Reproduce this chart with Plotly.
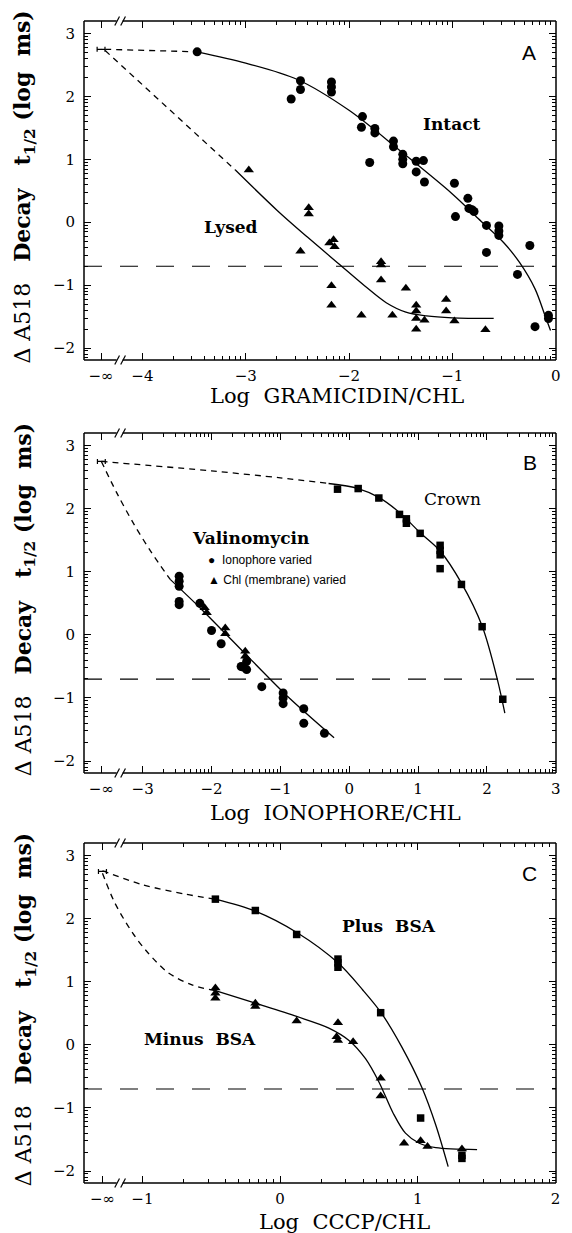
import math
import plotly.graph_objects as go

SERIF = "DejaVu Serif"
SANS = "Liberation Sans"

# ---------------- Panel A : gramicidin ----------------
A_NEG_INF = -4.40
A_H = (-4.40, 2.75, 0.038)          # x, y, half-width of error bar
A_intact_x = [-3.47, -2.56, -2.47, -2.47, -2.17, -2.17, -2.17, -1.87, -1.88, -1.75, -1.75,
              -1.57, -1.57, -1.80, -1.48, -1.48, -1.48, -1.35, -1.28, -1.35, -1.27, -0.98,
              -0.85, -0.84, -0.81, -0.79, -0.97, -0.67, -0.55, -0.55, -0.55, -0.67, -0.25,
              -0.37, -0.07, -0.07, -0.20]
A_intact_y = [2.71, 1.96, 2.25, 2.11, 2.23, 2.15, 2.07, 1.68, 1.51, 1.49, 1.42,
              1.29, 1.20, 0.95, 1.08, 1.00, 0.93, 0.97, 0.98, 0.80, 0.64, 0.62,
              0.38, 0.22, 0.20, 0.17, 0.09, -0.05, -0.06, -0.14, -0.21, -0.48, -0.37,
              -0.83, -1.48, -1.53, -1.66]
A_lysed_x = [-2.97, -2.39, -2.39, -2.47, -2.19, -2.15, -2.14, -2.17, -2.17, -1.88, -1.69,
             -1.69, -1.69, -1.58, -1.45, -1.35, -1.35, -1.35, -1.27, -1.35, -1.06, -1.06,
             -0.98, -0.68]
A_lysed_y = [0.83, 0.23, 0.13, -0.46, -0.33, -0.28, -0.39, -1.01, -1.32, -1.48, -0.63,
             -0.68, -0.92, -1.48, -1.05, -1.32, -1.41, -1.53, -1.56, -1.70, -1.23, -1.41,
             -1.57, -1.71]
A_intact_dash_x = [-4.36, -3.47]
A_intact_dash_y = [2.75, 2.71]
A_intact_fit_x = [-3.47, -3.0, -2.5, -2.0, -1.5, -1.0, -0.75, -0.5, -0.35, -0.2, -0.1, -0.05]
A_intact_fit_y = [2.71, 2.53, 2.27, 1.78, 1.13, 0.45, 0.06, -0.33, -0.64, -1.06, -1.50, -1.72]
A_lysed_dash_x = [-4.36, -3.10]
A_lysed_dash_y = [2.73, 0.83]
A_lysed_fit_x = [-3.10, -2.69, -2.40, -2.10, -1.85, -1.64, -1.45, -1.25, -1.00, -0.60]
A_lysed_fit_y = [0.83, 0.18, -0.24, -0.66, -1.01, -1.28, -1.43, -1.49, -1.52, -1.53]
A_xticks = [A_NEG_INF, -4, -3, -2, -1, 0]
A_xtext = ["−∞", "−4", "−3", "−2", "−1", "0"]

# ---------------- Panel B : ionophores ----------------
B_NEG_INF = -3.60
B_H = (-3.60, 2.75, 0.057)
B_crown_x = [-0.17, 0.13, 0.43, 0.73, 0.83, 0.83, 1.03, 1.32, 1.32, 1.32, 1.32, 1.63, 1.93, 2.23]
B_crown_y = [2.31, 2.32, 2.17, 1.91, 1.84, 1.77, 1.61, 1.42, 1.34, 1.27, 1.05, 0.80, 0.13, -1.02]
B_val_ion_x = [-2.47, -2.47, -2.47, -2.47, -2.47, -2.17, -2.00, -1.86, -1.57, -1.54, -1.49,
               -1.49, -1.27, -0.96, -0.96, -0.96, -0.66, -0.66, -0.36]
B_val_ion_y = [0.93, 0.85, 0.77, 0.53, 0.48, 0.50, 0.07, -0.14, -0.50, -0.51, -0.42,
               -0.55, -0.82, -0.92, -1.00, -1.09, -1.17, -1.40, -1.56]
B_val_chl_x = [-2.10, -2.07, -1.80, -1.80, -1.51, -1.51]
B_val_chl_y = [0.43, 0.35, 0.11, 0.02, -0.26, -0.34]
B_crown_dash_x = [-3.60, -2.00, -1.00, -0.30]
B_crown_dash_y = [2.75, 2.60, 2.49, 2.40]
B_crown_fit_x = [-0.30, 0.13, 0.43, 0.73, 1.03, 1.32, 1.63, 1.93, 2.15, 2.26]
B_crown_fit_y = [2.40, 2.32, 2.18, 1.94, 1.62, 1.33, 0.82, 0.14, -0.70, -1.24]
B_val_dash_x = [-3.60, -3.38, -3.14, -2.88, -2.60]
B_val_dash_y = [2.75, 2.26, 1.78, 1.32, 0.88]
B_val_fit_x = [-2.60, -2.14, -1.42, -0.89, -0.22]
B_val_fit_y = [0.88, 0.40, -0.40, -0.98, -1.63]
B_xticks = [B_NEG_INF, -3, -2, -1, 0, 1, 2, 3]
B_xtext = ["−∞", "−3", "−2", "−1", "0", "1", "2", "3"]

# ---------------- Panel C : CCCP ----------------
C_NEG_INF = -1.29
C_H = (-1.29, 2.75, 0.029)
C_plus_x = [-0.47, -0.18, 0.12, 0.42, 0.42, 0.42, 0.73, 1.02, 1.32, 1.32]
C_plus_y = [2.31, 2.13, 1.75, 1.36, 1.30, 1.23, 0.51, -1.16, -1.75, -1.80]
C_minus_x = [-0.47, -0.47, -0.47, -0.18, -0.18, 0.12, 0.42, 0.41, 0.42, 0.53, 0.73, 0.73,
             0.90, 1.02, 1.07, 1.32]
C_minus_y = [0.90, 0.82, 0.74, 0.66, 0.61, 0.38, 0.35, 0.13, 0.07, 0.05, -0.53, -0.81,
             -1.56, -1.52, -1.61, -1.65]
C_plus_dash_x = [-1.29, -1.00, -0.69, -0.47]
C_plus_dash_y = [2.76, 2.54, 2.39, 2.31]
C_plus_fit_x = [-0.47, -0.18, 0.13, 0.42, 0.60, 0.73, 0.88, 1.03, 1.13, 1.22]
C_plus_fit_y = [2.31, 2.12, 1.77, 1.30, 0.87, 0.52, -0.02, -0.68, -1.27, -1.93]
C_minus_dash_x = [-1.29, -1.20, -1.07, -0.96, -0.81, -0.64, -0.47]
C_minus_dash_y = [2.72, 2.25, 1.77, 1.46, 1.14, 0.95, 0.86]
C_minus_fit_x = [-0.47, -0.18, 0.12, 0.35, 0.50, 0.62, 0.72, 0.82, 0.91, 1.01, 1.13, 1.43]
C_minus_fit_y = [0.86, 0.66, 0.45, 0.27, 0.07, -0.22, -0.60, -1.08, -1.40, -1.56, -1.63, -1.66]
C_xticks = [C_NEG_INF, -1, 0, 1, 2]
C_xtext = ["−∞", "−1", "0", "1", "2"]

Y_TICKS = [-2, -1, 0, 1, 2, 3]
Y_TEXT = ["−2", "−1", "0", "1", "2", "3"]
THRESHOLD = -0.7
Y_RANGE = [-2.19, 3.2]

fig = go.Figure()


def log_minor(k_from, k_to, lo, hi):
    vals = []
    for k in range(k_from, k_to + 1):
        for m in range(2, 10):
            v = k + math.log10(m)
            if lo < v < hi:
                vals.append(v)
    return vals


def pts(x, y, n, symbol, size):
    fig.add_trace(go.Scatter(x=x, y=y, xaxis="x" + n, yaxis="y" + n, mode="markers",
                             marker=dict(symbol=symbol, size=size, color="black"),
                             showlegend=False, hoverinfo="skip"))


def curve(x, y, n, dash="solid"):
    fig.add_trace(go.Scatter(x=x, y=y, xaxis="x" + n, yaxis="y" + n, mode="lines",
                             line=dict(color="black", width=1.3, dash=dash, shape="spline",
                                       smoothing=0.9),
                             showlegend=False, hoverinfo="skip"))


def hbar(h, n):
    fig.add_trace(go.Scatter(x=[h[0]], y=[h[1]], xaxis="x" + n, yaxis="y" + n, mode="markers",
                             marker=dict(size=1, color="black"),
                             error_x=dict(type="data", array=[h[2]], color="black",
                                          thickness=1.2, width=2.5),
                             showlegend=False, hoverinfo="skip"))


SHORT = "6px,5px"
# A
hbar(A_H, "")
curve(A_intact_dash_x, A_intact_dash_y, "", SHORT)
curve(A_lysed_dash_x, A_lysed_dash_y, "", SHORT)
curve(A_intact_fit_x, A_intact_fit_y, "")
curve(A_lysed_fit_x, A_lysed_fit_y, "")
pts(A_intact_x, A_intact_y, "", "circle", 9)
pts(A_lysed_x, A_lysed_y, "", "triangle-up", 9)
# B
hbar(B_H, "2")
curve(B_crown_dash_x, B_crown_dash_y, "2", SHORT)
curve(B_val_dash_x, B_val_dash_y, "2", SHORT)
curve(B_crown_fit_x, B_crown_fit_y, "2")
curve(B_val_fit_x, B_val_fit_y, "2")
pts(B_crown_x, B_crown_y, "2", "square", 7.5)
pts(B_val_ion_x, B_val_ion_y, "2", "circle", 9)
pts(B_val_chl_x, B_val_chl_y, "2", "triangle-up", 9)
# C
hbar(C_H, "3")
curve(C_plus_dash_x, C_plus_dash_y, "3", SHORT)
curve(C_minus_dash_x, C_minus_dash_y, "3", SHORT)
curve(C_plus_fit_x, C_plus_fit_y, "3")
curve(C_minus_fit_x, C_minus_fit_y, "3")
pts(C_plus_x, C_plus_y, "3", "square", 7.5)
pts(C_minus_x, C_minus_y, "3", "triangle-up", 9)

tickfont = dict(family=SERIF, size=15, color="black")


def xax(domain_anchor, rng, tv, tt, minor_vals):
    return dict(range=rng, anchor=domain_anchor, tickmode="array", tickvals=tv, ticktext=tt,
                ticks="inside", ticklen=7, tickwidth=1.2, tickcolor="black", mirror="allticks",
                showline=False, showgrid=False, zeroline=False, tickfont=tickfont,
                ticklabelstandoff=5,
                minor=dict(tickmode="array", tickvals=minor_vals, ticks="inside", ticklen=4,
                           tickwidth=1, tickcolor="black", showgrid=False))


def yax(anchor, dom):
    return dict(range=Y_RANGE, domain=dom, anchor=anchor, tickmode="array", tickvals=Y_TICKS,
                ticktext=Y_TEXT, ticks="inside", ticklen=7, tickwidth=1.2, tickcolor="black",
                mirror="allticks", showline=False, showgrid=False, zeroline=False,
                tickfont=tickfont, ticklabelstandoff=8,
                minor=dict(tickmode="array", tickvals=log_minor(-3, 2, Y_RANGE[0], Y_RANGE[1]),
                           ticks="inside", ticklen=4, tickwidth=1, tickcolor="black",
                           showgrid=False))


A_XR = [-4.565, 0.003]
B_XR = [-3.852, 3.003]
C_XR = [-1.424, 2.003]

# the page body adds an 8px margin, so the figure is 8px smaller than the window
fig.update_layout(
    width=564, height=1225, margin=dict(l=76, r=11, t=13, b=50),
    paper_bgcolor="white", plot_bgcolor="white", showlegend=False,
    xaxis=xax("y", A_XR, A_xticks, A_xtext, log_minor(-4, -1, -4, 0)),
    yaxis=yax("x", [0.7083, 1.0]),
    xaxis2=xax("y2", B_XR, B_xticks, B_xtext, log_minor(-3, 2, -3, 3)),
    yaxis2=yax("x2", [0.3528, 0.6454]),
    xaxis3=xax("y3", C_XR, C_xticks, C_xtext, log_minor(-1, 1, -1, 2)),
    yaxis3=yax("x3", [0.0, 0.2926]),
)

# frame, break marks and threshold line
shapes = []
BRK_L, BRK_R = 0.0692, 0.0818      # gap in horizontal frame lines (domain fraction)
for n, hpx in (("", 339.0), ("2", 340.0), ("3", 340.0)):
    xr, yr = "x" + n + " domain", "y" + n + " domain"
    ln = dict(color="black", width=1.5)
    shapes += [
        dict(type="line", xref=xr, yref=yr, x0=0, x1=0, y0=0, y1=1, line=ln),
        dict(type="line", xref=xr, yref=yr, x0=1, x1=1, y0=0, y1=1, line=ln),
    ]
    for yy in (0, 1):
        shapes += [
            dict(type="line", xref=xr, yref=yr, x0=0, x1=BRK_L, y0=yy, y1=yy, line=ln),
            dict(type="line", xref=xr, yref=yr, x0=BRK_R, x1=1, y0=yy, y1=yy, line=ln),
        ]
        d = 4.5 / hpx
        for off in (0.0, 0.0126):
            shapes.append(dict(type="line", xref=xr, yref=yr,
                               x0=BRK_L - 0.004 + off, x1=BRK_L + 0.006 + off,
                               y0=yy - d, y1=yy + d, line=dict(color="black", width=1.2)))
    shapes.append(dict(type="line", xref=xr, yref="y" + n, x0=0, x1=1, y0=THRESHOLD,
                       y1=THRESHOLD, line=dict(color="black", width=1.2, dash="18px,18px")))
fig.update_layout(shapes=shapes)

ann = []
lab_b = dict(family=SERIF, size=17, color="black")
NB = "\u00a0"
ytitle = "Δ" + NB + "A518" + NB * 2 + " <b>Decay" + NB * 2 + " t<sub>1/2</sub>" + NB + "(log" + NB * 2 + "ms)</b>"
for n in ("", "2", "3"):
    ann.append(dict(text=ytitle, xref="paper", yref="y" + n + " domain", x=-0.126, y=0.51,
                    textangle=-90, showarrow=False, xanchor="center", yanchor="middle",
                    font=dict(family=SERIF, size=22, color="black")))
for n, txt, xx, yy in (("", "Log" + NB + " GRAMICIDIN/CHL", 0.535, -0.105),
                       ("2", "Log" + NB + " IONOPHORE/CHL", 0.532, -0.117),
                       ("3", "Log" + NB + " CCCP/CHL", 0.551, -0.114)):
    ann.append(dict(text=txt, xref="x" + n + " domain", yref="y" + n + " domain", x=xx, y=yy,
                    showarrow=False, xanchor="center", yanchor="middle",
                    font=dict(family=SERIF, size=21, color="black")))


def label(txt, x, y, n, font, xanchor="center"):
    ann.append(dict(text=txt, x=x, y=y, xref="x" + n, yref="y" + n, showarrow=False,
                    xanchor=xanchor, yanchor="middle", font=font))


panel_font = dict(family=SANS, size=21, color="black")
label("<b>Intact</b>", -1.0, 1.56, "", lab_b)
label("<b>Lysed</b>", -3.14, -0.07, "", lab_b)
label("A", -0.26, 2.70, "", panel_font)
label("<b>Valinomycin</b>", -1.43, 1.54, "2", lab_b)
label("●" + NB + " Ionophore varied", -2.08, 1.18, "2", dict(family=SANS, size=12, color="black"), "left")
label("▲ Chl (membrane) varied", -2.08, 0.87, "2", dict(family=SANS, size=12, color="black"), "left")
label("Crown", 1.50, 2.15, "2", dict(family=SERIF, size=17, color="black"))
label("B", 2.63, 2.74, "2", panel_font)
label("<b>Plus" + NB + " BSA</b>", 0.79, 1.88, "3", lab_b)
label("<b>Minus" + NB + " BSA</b>", -0.58, 0.09, "3", lab_b)
label("C", 1.81, 2.72, "3", panel_font)
fig.update_layout(annotations=ann)

fig.write_html("out.html")
